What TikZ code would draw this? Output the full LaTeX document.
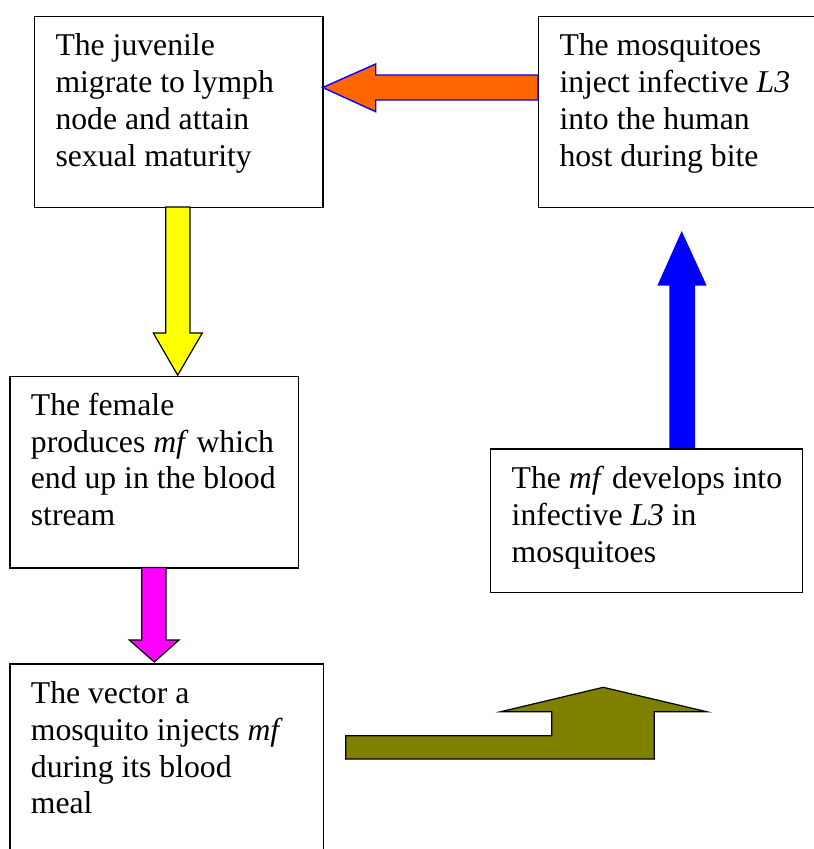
\documentclass[tikz,border=0pt]{standalone}
\usepackage{fontspec}
\setmainfont{Liberation Serif}
\usetikzlibrary{calc}
\definecolor{arrOrange}{HTML}{FF6600}
\definecolor{arrOlive}{HTML}{808000}
\definecolor{arrMagenta}{HTML}{FF00FF}
\definecolor{arrYellow}{HTML}{FFFF00}
\definecolor{arrBlue}{HTML}{0000FF}
\tikzset{
  box/.style={draw=black, line width=1.4pt, inner sep=0pt, anchor=north west},
  txt/.style={anchor=north west, inner sep=0pt, align=left,
    font=\fontsize{31.7}{36.8}\selectfont},
  blk/.style={draw=black, line width=1.2pt, line join=miter},
}
\newcommand{\st}{\rule{0pt}{24pt}}
\begin{document}
\begin{tikzpicture}[x=1pt,y=-1pt]
\clip (0,0) rectangle (814,849);
\fill[white] (0,0) rectangle (814,849);
% boxes
\node[box, minimum width=288.3pt, minimum height=190.7pt] (b1) at (34,16) {};
\node[box, minimum width=276pt, minimum height=190.7pt] (b2) at (537.7,16) {};
\node[box, minimum width=288.4pt, minimum height=191.6pt] (b3) at (9.3,375.7) {};
\node[box, minimum width=312pt, minimum height=143.4pt] (b4) at (489.7,448.3) {};
\node[box, minimum width=313.4pt, minimum height=220pt] (b5) at (9.3,663.3) {};
% texts
\node[txt] (t1) at ($(b1.north west)+(21.3,15.7)$) {\st The juvenile\\migrate to lymph\\node and attain\\sexual maturity};
\node[txt] (t2) at ($(b2.north west)+(21.6,15.7)$) {\st The mosquitoes\\inject infective \textit{L3}\\into the human\\host during bite};
\node[txt] (t3) at ($(b3.north west)+(21.4,15.3)$) {\st The female\\produces \textit{mf} which\\end up in the blood\\stream};
\node[txt] (t4) at ($(b4.north west)+(21.8,16)$) {\st The \textit{mf} develops into\\infective \textit{L3} in\\mosquitoes};
\node[txt] (t5) at ($(b5.north west)+(21.4,16)$) {\st The vector a\\mosquito injects \textit{mf}\\during its blood\\meal};
% orange arrow b2 -> b1
\draw[fill=arrOrange, draw=arrBlue, line width=1.4pt, line join=miter]
  (538,75) -- (375.7,75) -- (375.7,64) -- (322.7,87.5) -- (375.7,111.7)
  -- (375.7,100) -- (538,100) -- cycle;
% yellow arrow b1 -> b3
\draw[blk, fill=arrYellow]
  (165.7,207) -- (190,207) -- (190,333) -- (202.3,333) -- (177.7,375.2)
  -- (153.3,333) -- (165.7,333) -- cycle;
% magenta arrow b3 -> b5
\draw[blk, fill=arrMagenta]
  (141.7,567.5) -- (166,567.5) -- (166,640) -- (179,640) -- (154.3,662)
  -- (129.3,640) -- (141.7,640) -- cycle;
% olive arrow
\draw[blk, fill=arrOlive]
  (345.7,759) -- (345.7,735.7) -- (551.7,735.7) -- (551.7,711.7) -- (500.7,711.7)
  -- (603.3,687.3) -- (706.7,711.7) -- (654.3,711.7) -- (654.3,759) -- cycle;
% blue arrow b4 -> b2
\fill[arrBlue]
  (669.3,448) -- (695,448) -- (695,285.7) -- (706.7,285.7) -- (681.7,231)
  -- (657.3,285.7) -- (669.3,285.7) -- cycle;
\end{tikzpicture}
\end{document}
